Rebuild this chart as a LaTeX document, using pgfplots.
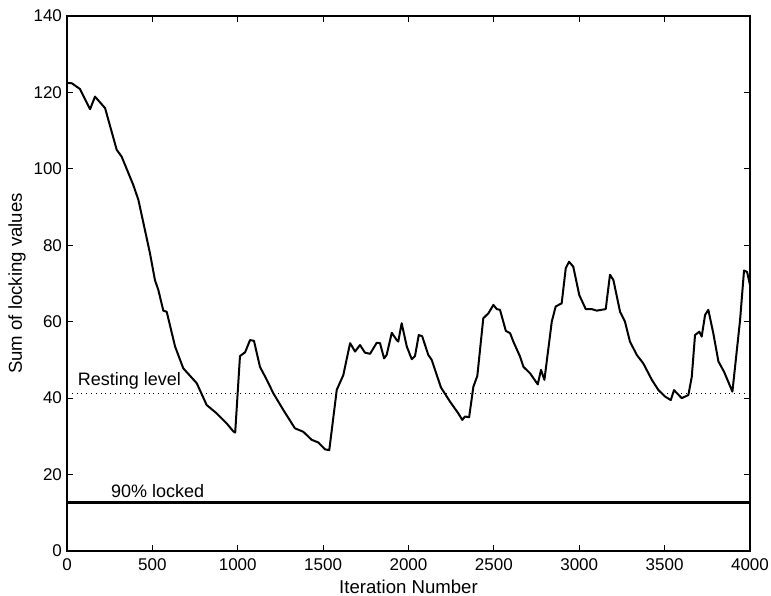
\documentclass[border=0pt]{standalone}
\usepackage{fontspec}
\setmainfont{Liberation Sans}
\usepackage{pgfplots}
\pgfplotsset{compat=1.18}
\usetikzlibrary{calc}

\begin{document}
\begin{tikzpicture}
\begin{axis}[
    scale only axis,
    width=341.5pt, height=267.5pt,
    xmin=0, xmax=4000, ymin=0, ymax=140,
    xtick={0,500,...,4000},
    ytick={0,20,...,140},
    tick align=inside,
    major tick length=3pt,
    axis line style={line width=0.7pt},
    tick style={line width=0.5pt, black},
    /pgf/number format/assume math mode=true,
    /pgf/number format/1000 sep={},
    tick label style={font=\fontsize{8.5}{9}\selectfont},
    xticklabel style={yshift=-0.5pt},
    yticklabel style={xshift=1pt},
    label style={font=\fontsize{9.3}{10}\selectfont},
    xlabel={Iteration Number},
    ylabel={Sum of locking values},
    xlabel style={yshift=2.5pt},
    ylabel style={yshift=-3pt},
    clip=false,
]
\coordinate (ll) at (rel axis cs:0,0);
\coordinate (ur) at (rel axis cs:1,1);

%% resting level and 90% line
\addplot[black, dotted, line width=0.4pt] coordinates {(0,41.2)(4000,41.2)};
\addplot[black, line width=1.5pt] coordinates {(0,12.6)(4000,12.6)};

\node[font=\fontsize{9}{10}\selectfont, anchor=south west, inner sep=1pt] at (axis cs:50,41.8) {Resting level};
\node[font=\fontsize{9}{10}\selectfont, anchor=south west, inner sep=1pt] at (axis cs:245,13.2) {90\% locked};

%% sum of locking values
\addplot[black, line width=1pt, line join=round] coordinates {
(0,122.5)(28,122.4)(76,120.9)(135,115.6)(164,118.9)(223,115.9)(291,105)(320,103.2)
(388,95.8)(418,91.9)(486,77.9)(515,70.9)(535,68.3)(564,62.9)(584,62.6)(633,53.5)
(681,47.8)(760,43.9)(818,38.2)(877,36)(935,33.4)(974,31.3)(985,31)(1013,51)
(1043,52)(1072,55.2)(1095,55)(1130,48.2)(1170,44.8)(1208,41.3)(1267,36.9)(1335,32.1)
(1384,31.2)(1433,29.1)(1472,28.4)(1511,26.6)(1536,26.4)(1580,42.2)(1618,46)(1658,54.4)
(1687,52.2)(1716,53.9)(1745,51.9)(1775,51.6)(1814,54.5)(1833,54.4)(1857,50.4)(1872,51.3)
(1902,57.1)(1931,55.2)(1940,54.8)(1960,59.6)(1990,53.5)(2019,50.2)(2038,51)(2060,56.5)
(2080,56.2)(2116,51.3)(2136,50)(2190,42.8)(2243,39.1)(2292,36)(2315,34.3)(2331,35.2)
(2355,35)(2380,43)(2403,45.8)(2438,60.9)(2468,62.2)(2497,64.4)(2517,63.3)(2536,63.1)
(2570,57.6)(2595,57)(2614,54.8)(2653,50.9)(2673,48.2)(2712,46.5)(2757,43.6)(2776,47.4)
(2796,44.8)(2839,60)(2862,64)(2897,64.8)(2921,74)(2940,75.7)(2965,74.4)(3000,67)
(3038,63.3)(3073,63.3)(3102,62.9)(3155,63.3)(3180,72.3)(3200,70.9)(3239,62.6)(3268,60)
(3297,54.8)(3337,51.3)(3375,49.1)(3425,44.8)(3464,42.1)(3503,40.4)(3536,39.5)(3555,42.1)
(3600,40)(3639,40.8)(3659,45.6)(3678,56.5)(3703,57.4)(3717,56.1)(3737,61.8)(3756,63.1)
(3785,57)(3815,49.6)(3848,46.9)(3897,41.7)(3942,60.5)(3965,73.4)(3983,73)(4000,69.6)};
\end{axis}
\pgfresetboundingbox
\path[use as bounding box] ($(ll)+(-33.5pt,-22pt)$) rectangle ($(ur)+(10.5pt,8pt)$);
\end{tikzpicture}
\end{document}
